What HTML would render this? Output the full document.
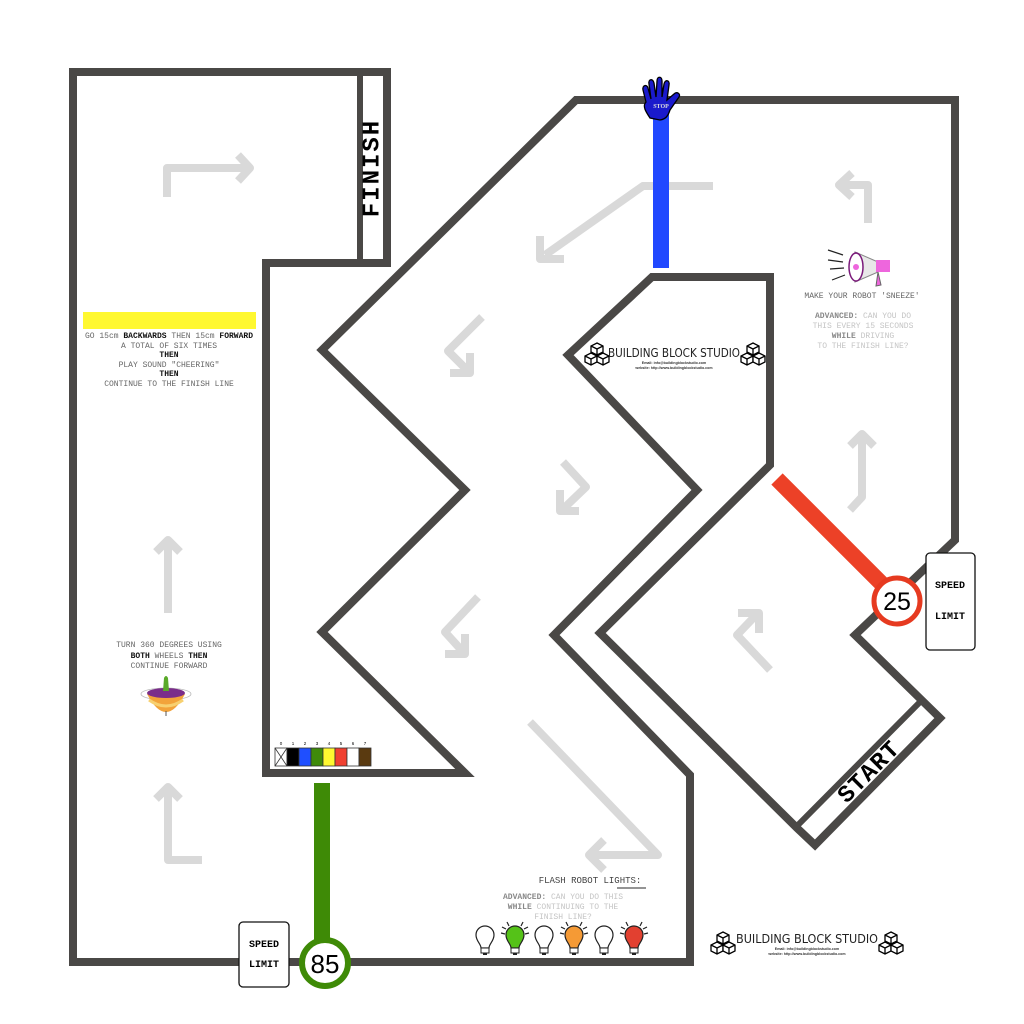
<!DOCTYPE html>
<html><head><meta charset="utf-8"><style>
html,body{margin:0;padding:0;background:#fff;}
svg{display:block}
.t{font-family:"Liberation Mono",monospace;font-size:8px;fill:#666;text-anchor:middle}
.lt{fill:#c4c4c4}
.b{font-weight:bold;fill:#111}
.bg{font-weight:bold;fill:#888}
.ar{fill:none;stroke:#d9d9d9;stroke-width:8;stroke-linejoin:round;stroke-linecap:butt}
</style></head><body>
<svg width="1024" height="1024" viewBox="0 0 1024 1024" xmlns="http://www.w3.org/2000/svg">
<rect width="1024" height="1024" fill="#fff"/>
<defs>
<g id="cube">
<path d="M0,-6 L6,-3 L6,3 L0,6 L-6,3 L-6,-3 Z M-6,-3 L0,0 L6,-3 M0,0 L0,6" fill="#fff" stroke="#000" stroke-width="1.3"/>
</g>
<g id="cubes">
<use href="#cube" x="0" y="-6"/><use href="#cube" x="-6" y="4"/><use href="#cube" x="6" y="4"/>
</g>
<g id="bulb">
<path d="M-4,6 C-4,2 -9,-1 -9,-7 C-9,-13 -4,-16 0,-16 C4,-16 9,-13 9,-7 C9,-1 4,2 4,6 Z" stroke="#222" stroke-width="1.2"/>
<rect x="-4" y="6" width="8" height="5" fill="#fff" stroke="#222" stroke-width="1"/>
<rect x="-2" y="11" width="4" height="2" fill="#222"/>
</g>
<g id="rays" stroke="#222" stroke-width="1.2">
<line x1="-14" y1="-9" x2="-10" y2="-8"/><line x1="-13" y1="-15" x2="-9" y2="-13"/><line x1="-8" y1="-20" x2="-6" y2="-16"/>
<line x1="14" y1="-9" x2="10" y2="-8"/><line x1="13" y1="-15" x2="9" y2="-13"/><line x1="8" y1="-20" x2="6" y2="-16"/>
</g>
</defs>

<!-- light arrows -->
<polyline class="ar" points="167,197 167,168 248,168"/><polyline class="ar" points="238,155 250,168 238,181"/>
<polyline class="ar" points="168,613 168,540"/><polyline class="ar" points="156,552 168,540 180,552"/>
<polyline class="ar" points="202,860 168,860 168,787"/><polyline class="ar" points="156,799 168,787 180,799"/>
<polyline class="ar" points="713,186 643,186 545,255"/><polyline class="ar" points="540,236 540,259 564,259"/>
<polyline class="ar" points="482,317 448,351 470,373"/><polyline class="ar" points="450,373 470,373 470,353"/>
<polyline class="ar" points="563,462 586,487 562,510"/><polyline class="ar" points="560,490 560,511 579,511"/>
<polyline class="ar" points="478,597 445,632 465,654"/><polyline class="ar" points="445,654 465,654 465,634"/>
<polyline class="ar" points="530,722 658,855 590,855"/><polyline class="ar" points="604,840 589,855 604,870"/>
<polyline class="ar" points="850,510 862,497 862,435"/><polyline class="ar" points="850,446 862,434 874,446"/>
<polyline class="ar" points="770,670 737,635 758,613"/><polyline class="ar" points="738,613 759,613 759,633"/>
<polyline class="ar" points="868,223 868,185 840,185"/><polyline class="ar" points="852,173 839,185 852,197"/>

<!-- track walls -->
<polygon fill="none" stroke="#4a4846" stroke-width="8" stroke-linejoin="miter" points="73,72 387,72 387,263 266,263 266,773 465,773 322,632 465,490 322,350 576,100 955,100 955,540 855,635 940,718 815,845 797,828 600,633 770,465 770,277 652,277 568,355 697,490 554,635 690,775 690,962 73,962"/>
<line x1="360" y1="72" x2="360" y2="263" stroke="#4a4846" stroke-width="6"/>
<line x1="797" y1="826" x2="920" y2="702" stroke="#4a4846" stroke-width="6"/>

<!-- FINISH / START -->
<text x="373" y="168" transform="rotate(-90 373 168)" font-family="Liberation Mono,monospace" font-weight="bold" font-size="24" text-anchor="middle" dominant-baseline="central" letter-spacing="2">FINISH</text>
<text x="870" y="773" transform="rotate(-45 870 773)" font-family="Liberation Mono,monospace" font-weight="bold" font-size="24" text-anchor="middle" dominant-baseline="central" letter-spacing="1">START</text>

<!-- blue stop bar -->
<rect x="653" y="108" width="16" height="160" fill="#2148ff"/>
<path d="M650,118 C646,112 642,106 646,102 L643,90 C642,85 647,84 648,88 L651,99 L649,84 C648,79 653,78 654,83 L656,97 L657,81 C657,76 662,76 662,81 L662,97 L664,84 C665,79 670,80 669,85 L667,100 L674,94 C677,91 681,94 679,97 L670,110 C668,116 666,119 660,120 Z" fill="#1a1acc" stroke="#000" stroke-width="1.3"/>
<text x="661" y="108" font-family="Liberation Serif,serif" font-size="6" font-weight="bold" fill="#ddd" text-anchor="middle">STOP</text>

<!-- red bar & 25 -->
<line x1="777" y1="479" x2="882" y2="584" stroke="#ec4127" stroke-width="16"/>
<circle cx="897" cy="601" r="23" fill="#fff" stroke="#e63a20" stroke-width="5"/>
<text x="897" y="610" font-family="Liberation Sans,sans-serif" font-size="25" text-anchor="middle">25</text>
<rect x="926" y="553" width="49" height="97" rx="4" fill="#fff" stroke="#111" stroke-width="1.3"/>
<text x="950" y="588" font-family="Liberation Mono,monospace" font-weight="bold" font-size="10" text-anchor="middle">SPEED</text>
<text x="950" y="619" font-family="Liberation Mono,monospace" font-weight="bold" font-size="10" text-anchor="middle">LIMIT</text>

<!-- green bar & 85 -->
<rect x="314" y="783" width="16" height="165" fill="#3e8a06"/>
<circle cx="325" cy="963" r="23" fill="#fff" stroke="#3e8a06" stroke-width="6"/>
<text x="325" y="973" font-family="Liberation Sans,sans-serif" font-size="26" text-anchor="middle">85</text>
<rect x="239" y="922" width="50" height="65" rx="4" fill="#fff" stroke="#111" stroke-width="1.3"/>
<text x="264" y="947" font-family="Liberation Mono,monospace" font-weight="bold" font-size="10" text-anchor="middle">SPEED</text>
<text x="264" y="967" font-family="Liberation Mono,monospace" font-weight="bold" font-size="10" text-anchor="middle">LIMIT</text>

<!-- color swatches -->
<g stroke="#333" stroke-width="0.8">
<rect x="275" y="748" width="12" height="18" fill="#fff"/>
<line x1="275" y1="748" x2="287" y2="766"/><line x1="287" y1="748" x2="275" y2="766"/>
<rect x="287" y="748" width="12" height="18" fill="#000"/>
<rect x="299" y="748" width="12" height="18" fill="#1f4fff"/>
<rect x="311" y="748" width="12" height="18" fill="#3f8a0a"/>
<rect x="323" y="748" width="12" height="18" fill="#fff830"/>
<rect x="335" y="748" width="12" height="18" fill="#f04030"/>
<rect x="347" y="748" width="12" height="18" fill="#fff"/>
<rect x="359" y="748" width="12" height="18" fill="#5a3a10"/>
</g>
<g font-family="Liberation Sans,sans-serif" font-size="4.5" text-anchor="middle">
<text x="281" y="745">0</text><text x="293" y="745">1</text><text x="305" y="745">2</text><text x="317" y="745">3</text><text x="329" y="745">4</text><text x="341" y="745">5</text><text x="353" y="745">6</text><text x="365" y="745">7</text>
</g>

<!-- yellow bar and text -->
<rect x="83" y="312" width="173" height="17" fill="#fff830"/>
<text class="t" x="169" y="338">GO 15cm <tspan class="b">BACKWARDS</tspan> THEN 15cm <tspan class="b">FORWARD</tspan></text>
<text class="t" x="169" y="348">A TOTAL OF SIX TIMES</text>
<text class="t b" x="169" y="357">THEN</text>
<text class="t" x="169" y="367">PLAY SOUND "CHEERING"</text>
<text class="t b" x="169" y="376">THEN</text>
<text class="t" x="169" y="386">CONTINUE TO THE FINISH LINE</text>

<text class="t" x="169" y="647">TURN 360 DEGREES USING</text>
<text class="t" x="169" y="658"><tspan class="b">BOTH</tspan> WHEELS <tspan class="b">THEN</tspan></text>
<text class="t" x="169" y="668">CONTINUE FORWARD</text>
<!-- spinning top -->
<ellipse cx="166" cy="694" rx="25" ry="6" fill="none" stroke="#bbb" stroke-width="0.8"/>
<path d="M147,694 Q166,730 185,694 Z" fill="#f2a33a"/>
<path d="M149,700 Q166,712 183,700" fill="none" stroke="#f7d070" stroke-width="3"/>
<ellipse cx="166" cy="693" rx="19" ry="5" fill="#7a2d8a"/>
<path d="M163,691 L164,678 Q166,674 168,678 L169,691 Z" fill="#5aaa2a"/>
<line x1="166" y1="711" x2="166" y2="716" stroke="#555"/>

<!-- megaphone -->
<g>
<line x1="828" y1="250" x2="843" y2="255" stroke="#222" stroke-width="1.2"/>
<line x1="828" y1="260" x2="843" y2="262" stroke="#222" stroke-width="1.2"/>
<line x1="830" y1="269" x2="844" y2="268" stroke="#222" stroke-width="1.2"/>
<line x1="832" y1="280" x2="845" y2="275" stroke="#222" stroke-width="1.2"/>
<path d="M855,252 L878,262 L878,272 L855,282 Z" fill="#e8e8e8" stroke="#888" stroke-width="1"/>
<rect x="876" y="260" width="14" height="12" fill="#ee66dd"/>
<ellipse cx="856" cy="267" rx="7" ry="14" fill="#fff" stroke="#7a1a7a" stroke-width="1.5"/>
<circle cx="856" cy="267" r="3" fill="#ee66dd"/>
<path d="M878,272 L881,285 L876,286 Z" fill="#ee66dd" stroke="#666" stroke-width="1"/>
</g>
<text class="t" x="862" y="298">MAKE YOUR ROBOT 'SNEEZE'</text>
<text class="t lt" x="863" y="318"><tspan class="bg">ADVANCED:</tspan> CAN YOU DO</text>
<text class="t lt" x="863" y="328">THIS EVERY 15 SECONDS</text>
<text class="t lt" x="863" y="338"><tspan class="bg">WHILE</tspan> DRIVING</text>
<text class="t lt" x="863" y="348">TO THE FINISH LINE?</text>

<!-- flash lights -->
<text class="t" x="590" y="883" style="font-size:9px;fill:#444">FLASH ROBOT LIGHTS:</text>
<line x1="617" y1="888" x2="646" y2="888" stroke="#555" stroke-width="1.2"/>
<text class="t lt" x="563" y="899"><tspan class="bg">ADVANCED:</tspan> CAN YOU DO THIS</text>
<text class="t lt" x="563" y="909"><tspan class="bg">WHILE</tspan> CONTINUING TO THE</text>
<text class="t lt" x="563" y="919">FINISH LINE?</text>
<use href="#bulb" x="485" y="942" fill="#fff"/>
<use href="#bulb" x="515" y="942" fill="#55c218"/><use href="#rays" x="515" y="942"/>
<use href="#bulb" x="544" y="942" fill="#fff"/>
<use href="#bulb" x="574" y="942" fill="#f59a35"/><use href="#rays" x="574" y="942"/>
<use href="#bulb" x="604" y="942" fill="#fff"/>
<use href="#bulb" x="634" y="942" fill="#e24030"/><use href="#rays" x="634" y="942"/>

<!-- logos -->
<use href="#cubes" x="597" y="355"/>
<use href="#cubes" x="753" y="355"/>
<text x="674" y="357" textLength="132" lengthAdjust="spacingAndGlyphs" font-family="DejaVu Sans Condensed,DejaVu Sans,sans-serif" font-size="12" text-anchor="middle" fill="#222">BUILDING BLOCK STUDIO</text>
<text x="674" y="364" font-family="Liberation Sans,sans-serif" font-size="3.6" font-weight="bold" text-anchor="middle" fill="#333">Email: info@buildingblockstudio.com</text>
<text x="674" y="369" font-family="Liberation Sans,sans-serif" font-size="3.6" font-weight="bold" text-anchor="middle" fill="#333">website: http://www.buildingblockstudio.com</text>

<use href="#cubes" x="723" y="944"/>
<use href="#cubes" x="891" y="944"/>
<text x="807" y="943" textLength="142" lengthAdjust="spacingAndGlyphs" font-family="DejaVu Sans Condensed,DejaVu Sans,sans-serif" font-size="12" text-anchor="middle" fill="#222">BUILDING BLOCK STUDIO</text>
<text x="807" y="950" font-family="Liberation Sans,sans-serif" font-size="3.6" font-weight="bold" text-anchor="middle" fill="#333">Email: info@buildingblockstudio.com</text>
<text x="807" y="955" font-family="Liberation Sans,sans-serif" font-size="3.6" font-weight="bold" text-anchor="middle" fill="#333">website: http://www.buildingblockstudio.com</text>
</svg>
</body></html>
